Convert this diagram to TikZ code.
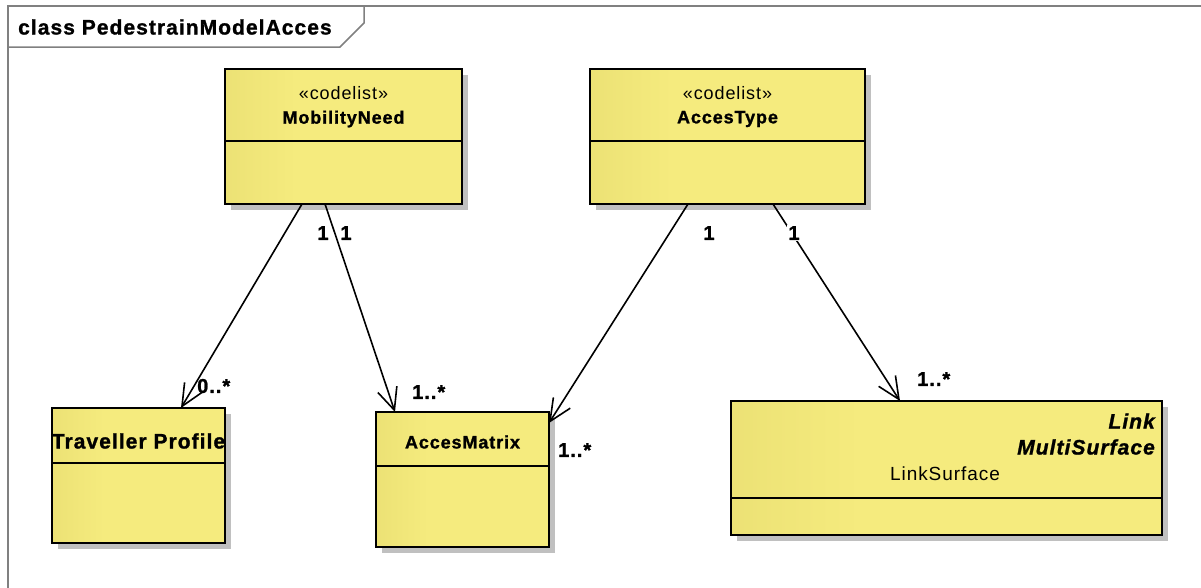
\documentclass[tikz,border=0pt]{standalone}
\usepackage{fontspec}
\setmainfont{Liberation Sans}[LetterSpace=5, BoldFeatures={FakeBold=1.2}, BoldItalicFeatures={FakeBold=1.2}]
\usetikzlibrary{arrows.meta,shadows}
\definecolor{clsdark}{RGB}{221,210,102}
\definecolor{clslight}{RGB}{245,235,126}
\definecolor{framegray}{RGB}{128,128,128}
\definecolor{shadowgray}{RGB}{192,192,192}
\pgfdeclarehorizontalshading{classfill}{100bp}{color(0bp)=(clsdark); color(40bp)=(clslight); color(100bp)=(clslight)}
\tikzset{
  classbox/.style={draw=black, line width=1.6pt, shade, shading=classfill, anchor=north west,
    inner sep=0pt, outer sep=0pt,
    drop shadow={shadow xshift=6pt, shadow yshift=-6pt, fill=shadowgray, opacity=1}},
  assoc/.style={line width=1.6pt, -{Straight Barb[length=22pt,width=20pt,line width=1.6pt]}},
  mult/.style={font=\fontsize{20}{22}\selectfont\bfseries, inner sep=1pt},
  stereo/.style={font=\fontsize{18}{20}\selectfont, inner sep=0pt},
  clsname/.style={font=\fontsize{18}{20}\selectfont\bfseries, inner sep=0pt},
  tagname/.style={font=\fontsize{21}{23}\selectfont\bfseries\itshape, inner sep=0pt, anchor=east}
}

\begin{document}
\begin{tikzpicture}[x=1pt,y=-1pt]
    \useasboundingbox (0,0) rectangle (1201,587);
    \draw[framegray,line width=1.5pt] (8,600) -- (8,6) -- (1210,6);
    \draw[framegray,line width=1.5pt] (8,47) -- (340,47) -- (364,23) -- (364,6);
    \node[font=\fontsize{21}{23}\selectfont\bfseries, anchor=west, inner sep=0pt] (title) at (18,27) {class PedestrainModelAcces};
    \foreach \n/\x/\y/\w/\h/\d in {mob/225/69/237/135/72, acc/590/69/275/135/72, trav/52/408/173/135/55,
        mat/376/412/173/135/54, link/731/401/431/134/97} {
      \node[classbox, minimum width=\w, minimum height=\h] (\n) at (\x,\y) {};
      \draw[line width=1.6pt] ([yshift=-\d pt]\n.north west) -- ([yshift=-\d pt]\n.north east);
    }
    \node[stereo] (mobst) at (mob.north |- 0,93) {«codelist»};
    \node[clsname] (mobname) at (mob.north |- 0,119) {MobilityNeed};
    \node[stereo] (accst) at (acc.north |- 0,93) {«codelist»};
    \node[clsname] (accname) at (acc.north |- 0,119) {AccesType};
    \node[clsname, font=\fontsize{21}{23}\selectfont\bfseries] (travname) at (trav.north |- 0,441) {Traveller Profile};
    \node[clsname] (matname) at (mat.north |- 0,442) {AccesMatrix};
    \node[tagname] (linktag) at (1155,421) {Link};
    \node[tagname] (surftag) at (1155,447) {MultiSurface};
    \node[stereo, font=\fontsize{19}{21}\selectfont] (linkname) at (945,474) {LinkSurface};

    \draw[assoc] ([xshift=77pt]mob.south west) -- ([xshift=129pt]trav.north west);
    \draw[assoc] ([xshift=100pt]mob.south west) -- ([xshift=19pt]mat.north west);
    \draw[assoc] ([xshift=98pt]acc.south west) -- ([yshift=-11pt]mat.north east);
    \draw[assoc] ([xshift=183pt]acc.south west) -- ([xshift=169pt]link.north west);

    \foreach \x in {323,346,709} \node[mult] (one\x) at (\x,233) {1};
    \node[mult, fill=white] (one794) at (794,233) {1};
    \node[mult, anchor=west] (travmult) at (196,386) {0..*};
    \node[mult, anchor=west] (matmulta) at (411,392) {1..*};
    \node[mult, anchor=west] (matmultb) at (557,450) {1..*};
    \node[mult, anchor=west] (linkmult) at (916,379) {1..*};
\end{tikzpicture}
\end{document}
